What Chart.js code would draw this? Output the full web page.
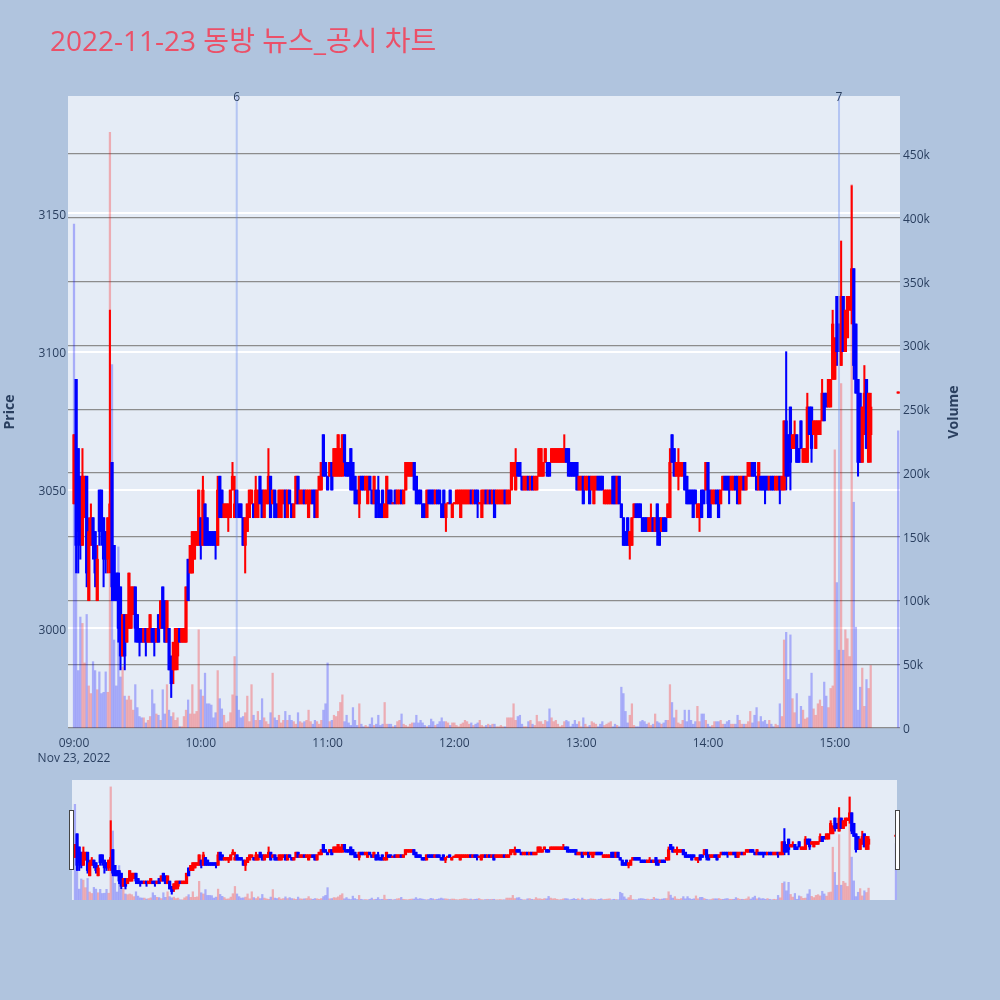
<!DOCTYPE html>
<html><head><meta charset="utf-8">
<script src="https://cdn.jsdelivr.net/npm/chart.js@4.4.1/dist/chart.umd.min.js"></script>
<style>
html,body{margin:0;padding:0;background:#B0C4DE;}
#wrap{position:relative;width:1000px;height:1000px;background:#B0C4DE;overflow:hidden;}
#main{position:absolute;left:0;top:0;}
#slider{position:absolute;left:0;top:780px;}
</style></head><body>
<div id="wrap"><canvas id="main" width="1000" height="780"></canvas><canvas id="slider" width="1000" height="120"></canvas></div>
<script>
// ---- data (minute offsets from 09:00; 390 = closing auction 15:30) ----
const titleText = '2022-11-23 동방 뉴스_공시 차트';
const tickMinutes = [0,60,120,180,240,300,360];
const tickLabels = ['09:00','10:00','11:00','12:00','13:00','14:00','15:00'];
const dateLabel = 'Nov 23, 2022';
const priceTicks = [3000,3050,3100,3150];
const volumeTicks = [0,50,100,150,200,250,300,350,400,450];
const newsMinutes = [77, 362];
const newsLabels = ['6','7'];

const opens = [
3045,3090,3065,3055,3030,3040,3055,3010,3030,3040,
3035,3010,3050,3050,3040,3035,3025,3030,3060,3030,
3020,3020,3015,2990,3005,2995,3000,3000,3005,3015,
3005,3000,3000,2995,3000,2995,2995,3000,3000,2995,
3005,3000,3015,3010,2995,3000,2990,2985,2985,2990,
3000,2995,2995,2995,3025,3020,3020,3025,3030,3030,
3040,3030,3045,3040,3035,3035,3035,3035,3030,3055,
3050,3040,3040,3040,3040,3050,3040,3050,3045,3045,
3040,3030,3035,3040,3045,3045,3040,3040,3055,3050,
3040,3045,3045,3055,3045,3050,3045,3040,3040,3045,
3050,3040,3050,3045,3040,3045,3055,3045,3045,3050,
3045,3040,3045,3050,3050,3040,3050,3050,3070,3060,
3055,3055,3060,3055,3055,3055,3055,3055,3070,3060,
3060,3065,3060,3055,3050,3045,3055,3055,3050,3045,
3055,3050,3045,3050,3050,3045,3050,3040,3040,3050,
3050,3045,3050,3045,3045,3050,3045,3050,3055,3055,
3055,3060,3055,3050,3050,3045,3045,3040,3050,3050,
3050,3045,3050,3050,3045,3050,3040,3045,3050,3040,
3045,3045,3045,3040,3045,3045,3045,3045,3050,3045,
3050,3050,3045,3040,3045,3050,3045,3050,3045,3050,
3045,3045,3045,3045,3050,3045,3045,3050,3055,3050,
3060,3060,3055,3050,3050,3055,3050,3055,3050,3050,
3055,3055,3055,3060,3060,3060,3060,3060,3060,3060,
3060,3060,3060,3065,3065,3060,3060,3060,3060,3050,
3050,3055,3050,3050,3055,3050,3045,3050,3055,3055,
3055,3045,3045,3045,3045,3055,3055,3045,3055,3045,
3040,3035,3040,3030,3030,3040,3045,3045,3045,3040,
3040,3040,3035,3035,3040,3035,3045,3040,3035,3040,
3040,3040,3040,3070,3065,3055,3055,3055,3055,3060,
3055,3050,3050,3050,3050,3040,3040,3050,3050,3050,
3060,3050,3045,3045,3050,3050,3045,3050,3055,3055,
3055,3050,3050,3055,3055,3045,3050,3055,3050,3055,
3055,3060,3060,3055,3050,3055,3055,3055,3055,3050,
3055,3055,3050,3050,3055,3050,3050,3075,3070,3080,
3065,3065,3070,3065,3075,3060,3060,3060,3080,3080,
3070,3065,3070,3070,3075,3085,3085,3080,3080,3090,
3090,3120,3110,3095,3120,3100,3105,3115,3115,3130,
3110,3090,3085,3060,3070,3090,3060,3070,
3085];
const highs = [
3070,3090,3065,3055,3065,3055,3055,3040,3045,3040,
3035,3030,3050,3050,3040,3035,3040,3115,3060,3030,
3020,3020,3015,3005,3005,3005,3020,3015,3015,3015,
3005,3000,3000,3000,3000,3000,3005,3000,3000,3000,
3005,3010,3015,3010,3010,3000,2990,2995,3000,3000,
3000,3000,3000,3015,3025,3030,3035,3035,3035,3050,
3040,3055,3045,3040,3035,3035,3035,3035,3055,3055,
3050,3045,3045,3045,3050,3060,3055,3050,3045,3045,
3040,3040,3045,3050,3050,3045,3055,3050,3055,3050,
3050,3050,3065,3055,3050,3050,3045,3050,3050,3050,
3050,3050,3050,3045,3045,3055,3055,3050,3050,3050,
3050,3050,3050,3050,3050,3050,3055,3060,3070,3060,
3055,3060,3060,3065,3065,3070,3065,3070,3070,3060,
3060,3065,3060,3055,3050,3055,3055,3055,3055,3055,
3055,3050,3055,3050,3055,3045,3050,3045,3055,3050,
3050,3045,3050,3050,3050,3050,3050,3060,3060,3060,
3060,3060,3055,3050,3050,3045,3045,3050,3050,3050,
3050,3050,3050,3050,3045,3050,3045,3045,3050,3045,
3045,3050,3050,3050,3050,3050,3050,3050,3050,3050,
3050,3050,3045,3050,3050,3050,3050,3050,3050,3050,
3050,3050,3050,3050,3050,3050,3050,3060,3060,3065,
3060,3060,3055,3055,3055,3055,3055,3055,3055,3055,
3065,3065,3060,3065,3060,3060,3065,3065,3065,3065,
3065,3065,3070,3065,3065,3060,3060,3060,3060,3055,
3055,3055,3055,3055,3055,3055,3055,3055,3055,3055,
3055,3050,3050,3050,3050,3055,3055,3055,3055,3045,
3040,3035,3040,3035,3040,3045,3045,3045,3045,3040,
3040,3040,3040,3045,3040,3040,3045,3040,3040,3040,
3040,3045,3065,3070,3065,3060,3065,3060,3060,3060,
3055,3050,3050,3050,3050,3045,3045,3050,3050,3060,
3060,3050,3050,3050,3050,3050,3050,3055,3055,3055,
3055,3055,3055,3055,3055,3055,3055,3055,3055,3060,
3060,3060,3060,3055,3060,3055,3055,3055,3055,3055,
3055,3055,3055,3055,3055,3055,3075,3100,3070,3080,
3070,3075,3070,3065,3075,3065,3065,3085,3080,3080,
3075,3075,3075,3075,3090,3085,3085,3090,3090,3115,
3105,3120,3110,3140,3120,3115,3120,3120,3160,3130,
3110,3090,3085,3080,3095,3090,3085,3085,
3085];
const lows = [
3045,3020,3020,3025,3030,3040,3015,3010,3030,3025,
3015,3010,3030,3030,3015,3020,3020,3020,3010,3010,
3010,2995,2985,2990,2985,2995,3000,3000,3005,2995,
2995,2990,2995,2995,2990,2995,2995,2995,2990,2995,
2995,3000,3000,2995,2995,2985,2975,2980,2985,2985,
2995,2995,2995,2995,3010,3020,3020,3025,3030,3030,
3025,3030,3030,3030,3030,3030,3030,3025,3030,3040,
3040,3040,3040,3035,3040,3050,3040,3040,3040,3040,
3030,3020,3035,3040,3045,3040,3040,3040,3045,3040,
3040,3045,3045,3040,3045,3040,3040,3040,3040,3045,
3040,3040,3045,3040,3040,3045,3045,3045,3045,3045,
3045,3040,3045,3045,3040,3040,3050,3050,3055,3055,
3050,3055,3050,3055,3055,3055,3055,3055,3055,3055,
3055,3050,3050,3045,3045,3040,3050,3050,3050,3045,
3050,3045,3045,3040,3040,3040,3040,3040,3040,3045,
3045,3045,3045,3045,3045,3045,3045,3050,3055,3055,
3055,3050,3045,3045,3045,3040,3040,3040,3045,3045,
3045,3045,3045,3045,3040,3040,3035,3045,3045,3040,
3045,3045,3045,3040,3045,3045,3045,3045,3045,3045,
3045,3040,3045,3040,3045,3045,3045,3045,3045,3040,
3045,3045,3045,3045,3045,3045,3045,3050,3055,3050,
3055,3055,3050,3050,3050,3050,3050,3050,3050,3050,
3055,3055,3055,3060,3055,3055,3060,3060,3060,3060,
3060,3060,3060,3060,3055,3055,3055,3055,3050,3050,
3050,3045,3050,3050,3045,3050,3045,3050,3050,3050,
3050,3045,3045,3045,3045,3045,3045,3045,3045,3040,
3030,3030,3030,3025,3030,3040,3040,3040,3040,3035,
3035,3035,3035,3035,3035,3035,3030,3030,3035,3035,
3035,3040,3040,3060,3055,3055,3050,3055,3055,3050,
3045,3045,3045,3040,3045,3040,3035,3040,3045,3050,
3040,3040,3045,3045,3045,3040,3045,3050,3050,3050,
3045,3050,3050,3050,3045,3045,3050,3050,3050,3055,
3055,3055,3055,3050,3050,3050,3050,3045,3050,3050,
3050,3050,3050,3050,3045,3050,3050,3050,3055,3050,
3065,3065,3060,3060,3065,3060,3060,3060,3070,3060,
3070,3065,3070,3070,3075,3075,3080,3080,3080,3090,
3090,3095,3100,3095,3100,3100,3105,3115,3110,3090,
3085,3055,3060,3060,3070,3065,3060,3060,
3085];
const closes = [
3070,3030,3035,3030,3055,3055,3020,3035,3040,3030,
3020,3025,3035,3035,3025,3025,3040,3045,3015,3010,
3010,3000,2990,3005,2990,3005,3020,3015,3015,3000,
2995,2995,2995,3000,2995,3000,3005,2995,2995,3000,
2995,3010,3000,2995,3010,2985,2980,2995,3000,3000,
2995,3000,3000,3015,3010,3030,3035,3035,3035,3050,
3030,3050,3030,3030,3030,3030,3030,3030,3050,3040,
3040,3045,3045,3045,3050,3055,3045,3040,3040,3040,
3030,3040,3045,3050,3050,3040,3050,3050,3045,3040,
3050,3050,3055,3040,3050,3040,3040,3050,3050,3050,
3040,3050,3045,3040,3045,3055,3045,3050,3050,3045,
3050,3050,3050,3045,3040,3050,3055,3060,3055,3055,
3050,3060,3050,3065,3065,3070,3065,3070,3060,3055,
3055,3050,3050,3045,3045,3055,3050,3050,3055,3055,
3050,3045,3055,3040,3045,3040,3040,3045,3055,3045,
3045,3045,3045,3050,3050,3045,3050,3060,3060,3060,
3060,3050,3045,3045,3045,3040,3040,3050,3045,3045,
3045,3050,3045,3045,3040,3040,3045,3045,3045,3045,
3045,3050,3050,3050,3050,3050,3050,3050,3045,3050,
3045,3045,3045,3050,3050,3045,3050,3045,3050,3040,
3050,3050,3050,3050,3045,3050,3050,3060,3060,3060,
3055,3055,3050,3055,3055,3050,3055,3050,3055,3055,
3065,3065,3060,3065,3055,3055,3065,3065,3065,3065,
3065,3065,3065,3060,3055,3055,3055,3055,3050,3055,
3055,3045,3055,3055,3045,3055,3055,3055,3050,3050,
3050,3050,3050,3050,3050,3045,3045,3055,3045,3040,
3030,3030,3030,3035,3040,3045,3040,3040,3040,3035,
3035,3035,3040,3040,3035,3040,3035,3030,3040,3035,
3035,3045,3060,3060,3055,3060,3060,3060,3060,3050,
3045,3045,3045,3040,3045,3045,3045,3040,3045,3060,
3045,3040,3050,3050,3045,3040,3050,3055,3050,3050,
3050,3055,3055,3050,3045,3055,3055,3050,3055,3060,
3060,3055,3055,3050,3060,3050,3050,3050,3050,3055,
3050,3050,3055,3055,3050,3055,3075,3055,3055,3060,
3070,3070,3060,3060,3065,3065,3065,3080,3070,3065,
3075,3075,3075,3075,3085,3075,3080,3090,3090,3110,
3105,3100,3100,3120,3100,3115,3120,3120,3130,3095,
3085,3060,3060,3080,3085,3065,3085,3080,
3085];
// volume in thousands of shares
const volumes = [
395,121,45,87,82,51,89,33,27,52,
45,30,44,27,28,44,28,467,285,69,
33,142,40,48,25,22,25,22,14,34,
16,9,8,8,4,6,9,30,19,11,
10,6,30,11,34,14,9,12,6,8,
1,1,9,14,22,11,34,11,13,77,
30,25,43,19,19,18,8,12,45,23,
15,10,4,5,12,26,56,25,14,8,
9,12,25,5,34,10,6,13,6,23,
8,5,3,12,43,8,6,10,4,6,
13,6,10,6,5,3,12,5,4,5,
6,14,5,3,6,5,3,6,14,19,
51,5,6,10,9,13,20,26,5,10,
4,2,16,6,2,19,3,1,2,1,
3,8,2,3,10,2,3,20,3,3,
3,1,2,5,6,11,3,2,1,3,
4,4,10,4,6,4,2,1,2,7,
5,2,3,5,8,5,5,4,2,4,
4,2,1,3,4,6,5,3,4,2,
3,4,6,2,1,2,3,2,3,3,
1,1,2,1,1,8,8,8,19,6,
9,10,3,1,1,5,6,3,2,10,
5,5,3,6,5,15,8,5,6,3,
1,2,5,6,5,1,3,6,3,5,
1,8,3,1,2,5,4,3,1,3,
5,2,3,4,5,1,3,2,1,32,
27,13,4,10,19,2,1,1,5,6,
5,3,4,2,3,11,5,4,3,4,
6,6,34,20,8,14,4,3,6,14,
5,14,6,3,5,17,5,11,11,6,
3,1,2,5,5,5,6,3,3,5,
6,3,3,3,10,6,3,3,3,5,
13,4,10,16,5,9,5,6,3,6,
3,1,3,2,19,9,69,75,38,73,
23,12,27,3,17,14,7,8,25,43,
15,10,19,22,17,36,25,16,31,33,
218,114,61,270,61,77,70,56,426,177,
79,14,32,47,17,38,31,49,
233];
// minutes whose volume bar is drawn blue in the reference
const volumeBlueMinutes = [0, 390];
const minutes = [];
for (let i = 0; i < 378; i++) minutes.push(i);
minutes.push(390);

// ---- styling ----
const UP = '#ff0000', DOWN = '#0000ff';
const UP_V = 'rgba(255,0,0,0.27)', DOWN_V = 'rgba(0,0,255,0.27)';
const FONT = '"Open Sans", "Noto Sans CJK KR", sans-serif';
const TXT = '#2a3f5f';

const isUp = closes.map((c, i) => c > opens[i] ? true : (c < opens[i] ? false : (i === 0 || c >= closes[i - 1])));
const volUp = isUp.map((u, i) => volumeBlueMinutes.includes(minutes[i]) ? false : u);

function makeDatasets(bodyW, wickW, volW) {
  return [
    { type: 'bar', label: 'body', yAxisID: 'y', order: 1, grouped: false,
      data: minutes.map((m, i) => ({ x: m, y: [opens[i], closes[i]] })),
      backgroundColor: isUp.map(u => u ? UP : DOWN), borderWidth: 0,
      barThickness: bodyW, minBarLength: 1.3 },
    { type: 'bar', label: 'wick', yAxisID: 'y', order: 2, grouped: false,
      data: minutes.map((m, i) => ({ x: m, y: [lows[i], highs[i]] })),
      backgroundColor: isUp.map(u => u ? UP : DOWN), borderWidth: 0,
      barThickness: wickW, minBarLength: 1.3 },
    { type: 'bar', label: 'volume', yAxisID: 'v', order: 3, grouped: false,
      data: minutes.map((m, i) => ({ x: m, y: volumes[i] })),
      backgroundColor: volUp.map(u => u ? UP_V : DOWN_V), borderWidth: 0,
      barThickness: volW }
  ];
}

const bgPlugin = {
  id: 'plotbg',
  beforeDraw(chart) {
    const { ctx, chartArea: a } = chart;
    ctx.save();
    ctx.fillStyle = '#E5ECF6';
    ctx.fillRect(a.left, a.top, a.right - a.left, a.bottom - a.top);
    ctx.restore();
  }
};

const decorPlugin = {
  id: 'decor',
  afterDatasetsDraw(chart) {
    const { ctx, chartArea: a, scales } = chart;
    ctx.save();
    ctx.strokeStyle = 'rgba(100,135,240,0.38)';
    ctx.lineWidth = 2;
    newsMinutes.forEach(m => {
      const x = scales.x.getPixelForValue(m);
      ctx.beginPath(); ctx.moveTo(x, a.top); ctx.lineTo(x, a.bottom); ctx.stroke();
    });
    ctx.restore();
  },
  afterDraw(chart) {
    const { ctx, chartArea: a, scales } = chart;
    ctx.save();
    ctx.fillStyle = TXT;
    ctx.font = '12px ' + FONT;
    ctx.textAlign = 'center';
    ctx.textBaseline = 'middle';
    newsMinutes.forEach((m, i) => {
      ctx.fillText(newsLabels[i], scales.x.getPixelForValue(m), a.top + 1.5);
    });
    // axis titles
    ctx.font = 'bold 14px ' + FONT;
    const cy = (a.top + a.bottom) / 2;
    [['Price', 10], ['Volume', 954]].forEach(([t, x]) => {
      ctx.save(); ctx.translate(x, cy); ctx.rotate(-Math.PI / 2);
      ctx.fillText(t, 0, 0); ctx.restore();
    });
    // main title
    ctx.font = '28px ' + FONT;
    ctx.fillStyle = '#EB5068';
    ctx.textAlign = 'left';
    ctx.textBaseline = 'alphabetic';
    ctx.fillText(titleText, 50, 51);
    ctx.restore();
  }
};

const tickFont = { family: FONT, size: 12, lineHeight: 1.25 };

new Chart(document.getElementById('main'), {
  type: 'bar',
  data: { datasets: makeDatasets(2.6, 1.4, 1.6) },
  plugins: [bgPlugin, decorPlugin],
  options: {
    responsive: false, animation: false, devicePixelRatio: 1, events: [],
    layout: { padding: { top: 96, left: 0, right: 0, bottom: 0 } },
    plugins: { legend: { display: false }, tooltip: { enabled: false }, title: { display: false } },
    scales: {
      x: {
        type: 'linear', min: -2.84, max: 390.86, offset: false,
        grid: { display: false, drawTicks: false, offset: false }, border: { display: false },
        afterBuildTicks: s => { s.ticks = tickMinutes.map(v => ({ value: v })); },
        afterFit: s => { s.height = 52; },
        ticks: {
          autoSkip: false, maxRotation: 0, padding: 8, color: TXT, font: tickFont,
          callback: (v) => { const i = tickMinutes.indexOf(v); return i === 0 ? [tickLabels[0], dateLabel] : tickLabels[i]; }
        }
      },
      y: {
        type: 'linear', position: 'left', min: 2964, max: 3192.4,
        grid: { color: '#ffffff', lineWidth: 2, drawTicks: false }, border: { display: false },
        afterBuildTicks: s => { s.ticks = priceTicks.map(v => ({ value: v })); },
        afterFit: s => { s.width = 68; },
        ticks: { padding: 2, labelOffset: 2, color: TXT, font: { family: FONT, size: 12 }, callback: v => String(v) }
      },
      v: {
        type: 'linear', position: 'right', min: 0, max: 495.5,
        grid: { color: '#8c8c8c', lineWidth: 1.2, drawTicks: false }, border: { display: false },
        afterBuildTicks: s => { s.ticks = volumeTicks.map(v => ({ value: v })); },
        afterFit: s => { s.width = 100; },
        ticks: { padding: 3, labelOffset: 1.5, color: TXT, font: { family: FONT, size: 12 }, callback: v => v === 0 ? '0' : v + 'k' }
      }
    }
  }
});

const handlePlugin = {
  id: 'handles',
  afterDraw(chart) {
    const { ctx } = chart;
    ctx.save();
    ctx.fillStyle = '#ffffff';
    ctx.strokeStyle = '#444444';
    ctx.lineWidth = 1;
    [[69.5, 30.5], [895.5, 30.5]].forEach(([x, y]) => {
      ctx.fillRect(x, y, 4, 59); ctx.strokeRect(x, y, 4, 59);
    });
    ctx.restore();
  }
};

new Chart(document.getElementById('slider'), {
  type: 'bar',
  data: { datasets: makeDatasets(2.6, 1.4, 1.6) },
  plugins: [bgPlugin, handlePlugin],
  options: {
    responsive: false, animation: false, devicePixelRatio: 1, events: [],
    layout: { padding: { top: 0, left: 72, right: 103, bottom: 0 } },
    plugins: { legend: { display: false }, tooltip: { enabled: false } },
    scales: {
      x: { type: 'linear', min: -1.4, max: 390.5, offset: false, display: false },
      y: { type: 'linear', min: 2964, max: 3192.4, display: false },
      v: { type: 'linear', min: 0, max: 495.5, display: false }
    }
  }
});
</script>
</body></html>
